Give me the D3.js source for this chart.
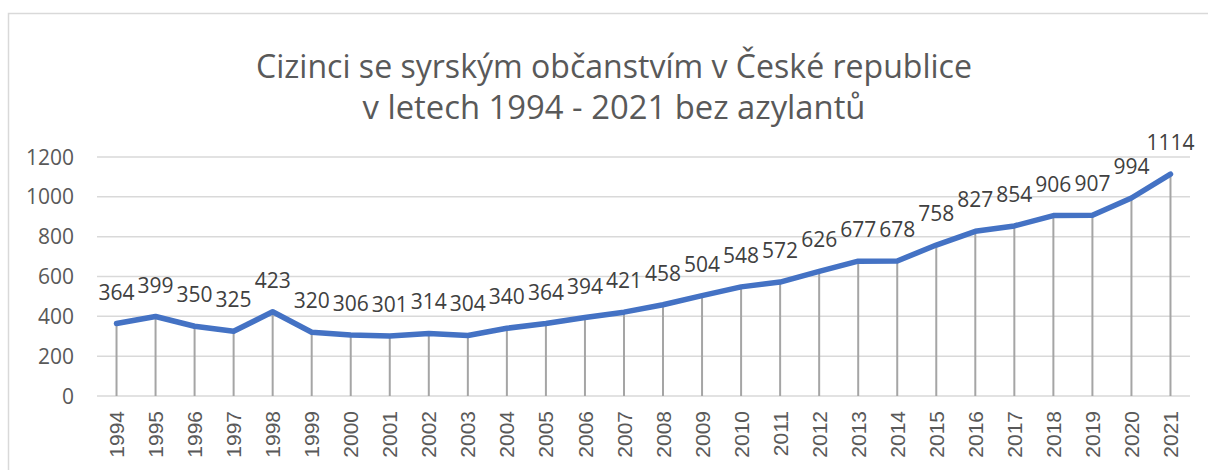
<!DOCTYPE html>
<html>
<head>
<meta charset="utf-8">
<script src="https://cdn.jsdelivr.net/npm/d3@7.9.0/dist/d3.min.js"></script>
<style>
  html, body { margin: 0; padding: 0; background: #fff; }
  svg { display: block; }
</style>
</head>
<body>
<script>
// ─── data ─────────────────────────────────────────────
const years = [1994, 1995, 1996, 1997, 1998, 1999, 2000, 2001, 2002, 2003,
  2004, 2005, 2006, 2007, 2008, 2009, 2010, 2011, 2012, 2013,
  2014, 2015, 2016, 2017, 2018, 2019, 2020, 2021];
const counts = [364, 399, 350, 325, 423, 320, 306, 301, 314, 304,
  340, 364, 394, 421, 458, 504, 548, 572, 626, 677,
  678, 758, 827, 854, 906, 907, 994, 1114];
const yTicks = [0, 200, 400, 600, 800, 1000, 1200];
const titleLines = ['Cizinci se syrským občanstvím v České republice',
  'v letech 1994 - 2021 bez azylantů'];

const data = years.map((y, i) => ({ year: y, value: counts[i] }));

// ─── layout ───────────────────────────────────────────
const W = 1208, H = 470;
const M = { top: 157, right: 18, bottom: 74, left: 97 };
const FONT = '"Open Sans", sans-serif';

const svg = d3.select('body').append('svg')
  .attr('width', W).attr('height', H);

// chart frame
svg.append('path')
  .attr('d', `M8.5,${H} V13.5 H${W}`)
  .attr('fill', 'none')
  .attr('stroke', '#d9d9d9')
  .attr('stroke-width', 1.5);

// title, squeezed to the reference widths
const title = svg.append('g').attr('fill', '#595959')
  .style('font-family', FONT);
const titleWidths = [716, 503];
titleLines.forEach((t, i) => {
  const txt = title.append('text')
    .attr('x', 614).attr('y', 78 + i * 41)
    .attr('text-anchor', 'middle')
    .style('font-size', '30px')
    .text(t);
  const len = txt.node().getComputedTextLength();
  txt.style('font-size', (30 * titleWidths[i] / len).toFixed(2) + 'px');
});

const x = d3.scaleBand()
  .domain(years)
  .range([M.left, W - M.right]);
const y = d3.scaleLinear()
  .domain([0, 1200])
  .range([H - M.bottom, M.top]);
const cx = d => x(d) + x.bandwidth() / 2;

// gridlines
svg.append('g')
  .selectAll('line').data(yTicks).join('line')
    .attr('x1', M.left).attr('x2', W - M.right)
    .attr('y1', d => y(d)).attr('y2', d => y(d))
    .attr('stroke', '#d9d9d9')
    .attr('stroke-width', 1.5);

// y labels
svg.append('g')
  .selectAll('text').data(yTicks).join('text')
    .attr('x', 74).attr('y', d => y(d))
    .attr('dy', '0.36em')
    .attr('text-anchor', 'end')
    .attr('fill', '#595959')
    .style('font-family', FONT)
    .style('font-size', '21px')
    .text(d => d);

// x labels (rotated)
svg.append('g')
  .selectAll('text').data(years).join('text')
    .attr('transform', d => `translate(${cx(d)},${y(0) + 15}) rotate(-90)`)
    .attr('dy', '0.36em')
    .attr('text-anchor', 'end')
    .attr('fill', '#595959')
    .style('font-family', '"Liberation Sans", Arial, sans-serif')
    .style('font-size', '21px')
    .text(d => d);

// drop lines
svg.append('g')
  .selectAll('line').data(data).join('line')
    .attr('x1', d => cx(d.year)).attr('x2', d => cx(d.year))
    .attr('y1', d => y(d.value)).attr('y2', y(0))
    .attr('stroke', '#a5a5a5')
    .attr('stroke-width', 2);

// line
const line = d3.line()
  .x(d => cx(d.year))
  .y(d => y(d.value));

svg.append('path')
  .datum(data)
  .attr('d', line)
  .attr('fill', 'none')
  .attr('stroke', '#4472c4')
  .attr('stroke-width', 5.5)
  .attr('stroke-linejoin', 'round')
  .attr('stroke-linecap', 'round');

// data labels
svg.append('g')
  .selectAll('text').data(data).join('text')
    .attr('x', d => cx(d.year))
    .attr('y', d => y(d.value) - 24)
    .attr('text-anchor', 'middle')
    .attr('fill', '#404040')
    .style('font-family', FONT)
    .style('font-size', '21px')
    .text(d => d.value);
</script>
</body>
</html>
